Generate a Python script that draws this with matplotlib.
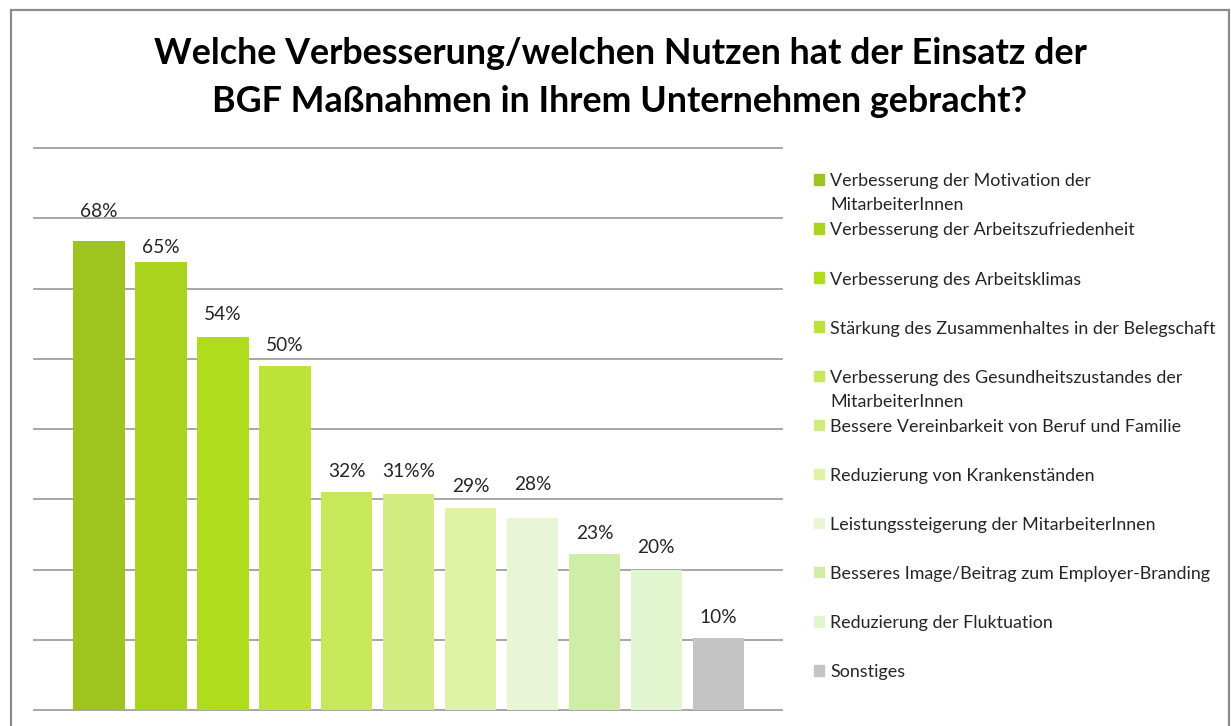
import matplotlib.pyplot as plt
from matplotlib.patches import Rectangle

plt.rcParams['font.family'] = ['Lato', 'DejaVu Sans']

# data
categories = [
    'Verbesserung der Motivation der\nMitarbeiterInnen',
    'Verbesserung der Arbeitszufriedenheit',
    'Verbesserung des Arbeitsklimas',
    'Stärkung des Zusammenhaltes in der Belegschaft',
    'Verbesserung des Gesundheitszustandes der\nMitarbeiterInnen',
    'Bessere Vereinbarkeit von Beruf und Familie',
    'Reduzierung von Krankenständen',
    'Leistungssteigerung der MitarbeiterInnen',
    'Besseres Image/Beitrag zum Employer-Branding',
    'Reduzierung der Fluktuation',
    'Sonstiges',
]
values = [66.7, 63.8, 53.1, 48.9, 31.0, 30.8, 28.7, 27.4, 22.2, 20.0, 10.2]
value_labels = ['68%', '65%', '54%', '50%', '32%', '31%%', '29%', '28%', '23%', '20%', '10%']

colors = ['#A0C41F', '#A9D31C', '#B0DC1E', '#BDE339', '#C8E85C', '#D4EB82',
          '#E0F2A6', '#E8F6D5', '#CFEDA6', '#E1F5CE', '#C4C4C4']
# label offset above bar top, in pixels (labels were hand placed)
label_off = [30, 14, 22, 21, 21, 22, 22, 33, 21, 22, 21]

W, H = 1231, 726
fig = plt.figure(figsize=(W / 100, H / 100), dpi=100)

# outer frame of the chart
fig.add_artist(Rectangle((11 / W, -0.05), 1218 / W, 1.05 - 10 / H, transform=fig.transFigure,
                         fill=False, edgecolor='#8C8C8C', lw=1.6, clip_on=False))

fig.text(620 / W, (H - 53) / H, 'Welche Verbesserung/welchen Nutzen hat der Einsatz der',
         ha='center', va='center', fontsize=25.8, fontweight='bold', color='black')
fig.text(620 / W, (H - 101) / H, 'BGF Maßnahmen in Ihrem Unternehmen gebracht?',
         ha='center', va='center', fontsize=25.8, fontweight='bold', color='black')

ax = fig.add_axes([34 / W, (H - 710) / H, (782 - 34) / W, (710 - 148) / H])
x = list(range(len(values)))
ax.bar(x, values, width=0.83, color=colors, zorder=2)

ax.set_ylim(0, 80)
ax.set_xlim(-1.053, 11.03)
ax.set_yticks(range(0, 81, 10))
ax.set_xticks([])
ax.tick_params(left=False, labelleft=False)
ax.yaxis.grid(True, color='#A6A6A6', lw=1.4)
ax.set_axisbelow(True)
for l in ax.get_ygridlines():
    l.set_clip_on(False)
for s in ax.spines.values():
    s.set_visible(False)

for i, (v, lab) in enumerate(zip(values, value_labels)):
    ax.annotate(lab, (i, v), xytext=(0, label_off[i] * 0.72), textcoords='offset points',
                ha='center', va='center', fontsize=13.8, color='#262626')

# legend drawn by hand: first line of each entry on a 49 px step
for i, (name, c) in enumerate(zip(categories, colors)):
    yc = 179.3 + 49.1 * i
    fig.add_artist(Rectangle((814 / W, (H - yc - 5.3) / H), 10.5 / W, 10.5 / H,
                             transform=fig.transFigure, color=c))
    fig.text(830 / W, (H - yc + 6) / H, name, ha='left', va='top', fontsize=12.9,
             color='#262626', linespacing=1.6)

fig.savefig('out.png', dpi=100)
